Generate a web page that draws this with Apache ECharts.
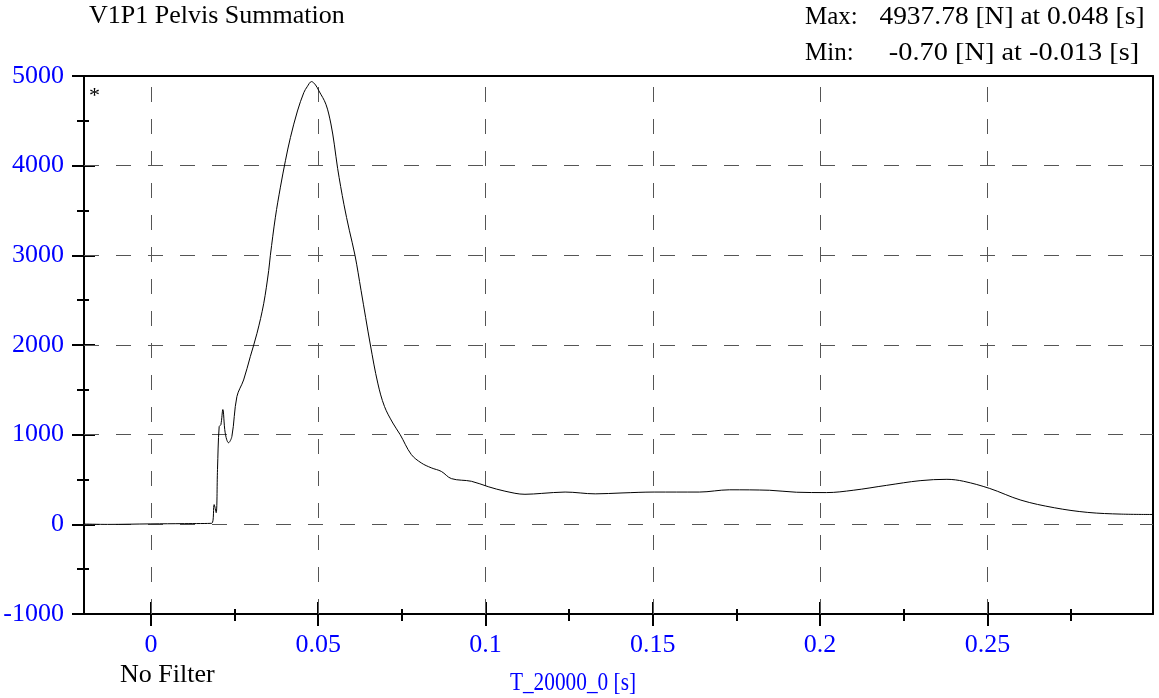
<!DOCTYPE html>
<html>
<head>
<meta charset="utf-8">
<script src="https://cdn.jsdelivr.net/npm/echarts@6/dist/echarts.min.js"></script>
<style>
html,body{margin:0;padding:0;background:#fff;}
#chart{width:1159px;height:698px;}
</style>
</head>
<body>
<div id="chart"></div>
<script>
// ---- data ----
const times = [-0.02, -0.013, 0, 0.01, 0.0182, 0.0189, 0.0195, 0.0199, 0.0204, 0.0209, 0.0215, 0.0222, 0.0232, 0.0242, 0.0257, 0.0277, 0.0297, 0.0317, 0.0337, 0.0352, 0.0357, 0.0372, 0.0387, 0.0402, 0.0417, 0.0438, 0.0457, 0.0467, 0.048, 0.0492, 0.0502, 0.0523, 0.0538, 0.0548, 0.0558, 0.0577, 0.0593, 0.061, 0.0628, 0.0656, 0.0678, 0.0698, 0.0723, 0.0745, 0.0778, 0.0808, 0.0838, 0.0868, 0.0898, 0.0958, 0.1008, 0.1058, 0.1118, 0.1168, 0.1238, 0.1328, 0.1408, 0.1504, 0.1639, 0.1729, 0.1849, 0.1929, 0.2019, 0.2099, 0.2199, 0.2299, 0.2379, 0.2429, 0.2507, 0.26, 0.27, 0.28, 0.29, 0.2995];
const force = [3, -0.7, 5, 8, 12, 220, 130, 610, 1090, 1110, 1280, 1020, 910, 980, 1425, 1610, 1870, 2130, 2460, 2830, 3000, 3425, 3760, 4055, 4315, 4610, 4815, 4880, 4937.78, 4900, 4835, 4685, 4465, 4240, 3970, 3565, 3280, 3000, 2610, 2000, 1575, 1315, 1130, 1000, 780, 685, 630, 590, 510, 480, 420, 370, 335, 345, 360, 340, 350, 360, 360, 385, 380, 358, 354, 380, 435, 487, 502, 480, 400, 270, 185, 133, 114, 110];
const xTicks = [0, 0.05, 0.1, 0.15, 0.2, 0.25];
const xMinorTicks = [0.025, 0.075, 0.125, 0.175, 0.225, 0.275];
const yTicks = [-1000, 0, 1000, 2000, 3000, 4000, 5000];
const yMinorTicks = [-500, 500, 1500, 2500, 3500, 4500];
const titleText = 'V1P1 Pelvis Summation';
const maxLabel = 'Max:', maxText = '4937.78 [N] at 0.048 [s]';
const minLabel = 'Min:', minText = '-0.70 [N] at -0.013 [s]';
const filterText = 'No Filter';
const xName = 'T_20000_0 [s]';

const FONT = '"Liberation Serif", "Times New Roman", serif';
const FS = 26;
const BLUE = '#0000ff';
const GRID = '#555555';

const chart = echarts.init(document.getElementById('chart'), null, {renderer: 'canvas'});
const data = times.map((t, i) => [t, force[i]]);

const xBase = {type: 'value', min: -0.02, max: 0.2995, gridIndex: 0};
const yBase = {type: 'value', min: -1000, max: 5000, gridIndex: 0};
const tickLine = {color: '#000', width: 2};

const option = {
  animation: false,
  backgroundColor: '#fff',
  grid: {left: 84, right: 6, top: 76, bottom: 84, containLabel: false, outerBoundsMode: 'none'},
  xAxis: [
    Object.assign({}, xBase, {
      position: 'bottom',
      axisLine: {show: true, onZero: false, lineStyle: {color: '#000', width: 2}},
      axisTick: {show: false},
      axisLabel: {show: true, customValues: xTicks, color: BLUE, fontSize: FS, fontFamily: FONT, margin: 18,
        formatter: v => String(Math.round(v * 1000) / 1000)},
      splitLine: {show: false}
    }),
    Object.assign({}, xBase, {
      position: 'bottom', offset: 12,
      axisLine: {show: false, onZero: false},
      axisTick: {show: true, inside: true, length: 24, customValues: xTicks, lineStyle: tickLine},
      axisLabel: {show: false}, splitLine: {show: false}
    }),
    Object.assign({}, xBase, {
      position: 'bottom', offset: 7,
      axisLine: {show: false, onZero: false},
      axisTick: {show: true, inside: true, length: 12, customValues: xMinorTicks, lineStyle: tickLine},
      axisLabel: {show: false}, splitLine: {show: false}
    }),
    Object.assign({}, xBase, {
      position: 'top',
      axisLine: {show: true, onZero: false, lineStyle: {color: '#000', width: 2}},
      axisTick: {show: false}, axisLabel: {show: false}, splitLine: {show: false}
    })
  ],
  yAxis: [
    Object.assign({}, yBase, {
      position: 'left',
      axisLine: {show: true, onZero: false, lineStyle: {color: '#000', width: 2}},
      axisTick: {show: false},
      axisLabel: {show: true, customValues: yTicks, color: BLUE, fontSize: FS, fontFamily: FONT, margin: 20,
        formatter: v => String(v)},
      splitLine: {show: false}
    }),
    Object.assign({}, yBase, {
      position: 'left', offset: 12,
      axisLine: {show: false, onZero: false},
      axisTick: {show: true, inside: true, length: 23, customValues: yTicks, lineStyle: tickLine},
      axisLabel: {show: false}, splitLine: {show: false}
    }),
    Object.assign({}, yBase, {
      position: 'left', offset: 7,
      axisLine: {show: false, onZero: false},
      axisTick: {show: true, inside: true, length: 12, customValues: yMinorTicks, lineStyle: tickLine},
      axisLabel: {show: false}, splitLine: {show: false}
    }),
    Object.assign({}, yBase, {
      position: 'right',
      axisLine: {show: true, onZero: false, lineStyle: {color: '#000', width: 2}},
      axisTick: {show: false}, axisLabel: {show: false}, splitLine: {show: false}
    })
  ],
  series: [
    {
      type: 'line',
      xAxisIndex: 0, yAxisIndex: 0,
      data: data,
      showSymbol: false,
      smooth: 0.35,
      lineStyle: {color: '#000', width: 1},
      z: 5,
      markLine: {
        silent: true, symbol: 'none', label: {show: false},
        lineStyle: {color: GRID, width: 1, type: [15, 17]},
        data: xTicks.map(v => ({xAxis: v})).concat(yTicks.filter(v => v > -1000 && v < 5000).map(v => ({yAxis: v})))
      }
    }
  ],
  graphic: [
    {type: 'text', left: 89, top: 3, style: {text: titleText, font: FS + 'px ' + FONT, fill: '#000'}},
    {type: 'text', x: 805, y: 17, style: {text: maxLabel, font: '25px ' + FONT, fill: '#000', align: 'left', verticalAlign: 'middle'}},
    {type: 'text', x: 1012, y: 17, scaleX: 1.055, style: {text: maxText, font: FS + 'px ' + FONT, fill: '#000', align: 'center', verticalAlign: 'middle'}},
    {type: 'text', x: 805, y: 53, style: {text: minLabel, font: '25px ' + FONT, fill: '#000', align: 'left', verticalAlign: 'middle'}},
    {type: 'text', x: 1014, y: 53, scaleX: 1.09, style: {text: minText, font: FS + 'px ' + FONT, fill: '#000', align: 'center', verticalAlign: 'middle'}},
    {type: 'text', left: 120, top: 662, style: {text: filterText, font: FS + 'px ' + FONT, fill: '#000'}},
    {type: 'text', x: 573, y: 683, scaleX: 0.82, style: {text: xName, font: FS + 'px ' + FONT, fill: BLUE, align: 'center', verticalAlign: 'middle'}},
    {type: 'text', left: 89, top: 85, style: {text: '*', font: '22px ' + FONT, fill: '#000'}}
  ]
};
chart.setOption(option);
</script>
</body>
</html>
